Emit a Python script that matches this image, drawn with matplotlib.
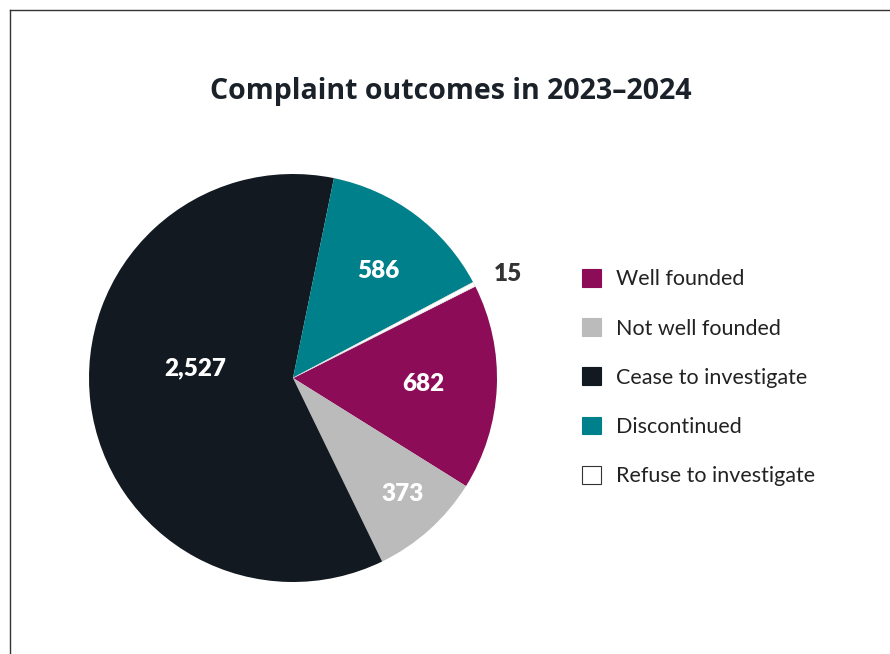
import matplotlib.pyplot as plt
from matplotlib.patches import Patch
from matplotlib.lines import Line2D
import numpy as np

outcomes = ['Well founded', 'Not well founded', 'Cease to investigate', 'Discontinued', 'Refuse to investigate']
counts = [682, 373, 2527, 586, 15]
colours = ['#8c0c58', '#bbbbbb', '#121920', '#00808a', '#ffffff']
label_colours = ['white', 'white', 'white', 'white', '#333333']
label_dist = [0.64, 0.78, 0.48, 0.67, 1.17]
label_turn = [0, 1.5, -13, -2, -1.5]  # degrees added to each wedge's mid angle

W, H = 890, 654
fig = plt.figure(figsize=(W / 100, H / 100), dpi=100)
fig.patch.set_facecolor('white')

# left and top border of the panel
fig.add_artist(Line2D([10 / W, 10 / W], [0, 1 - 10 / H], color='#333333', lw=1, transform=fig.transFigure))
fig.add_artist(Line2D([10 / W, 1], [1 - 10 / H, 1 - 10 / H], color='#333333', lw=1, transform=fig.transFigure))

fig.text(451 / W, 1 - 92 / H, 'Complaint outcomes in 2023\u20132024', ha='center', va='center',
         fontsize=20.5, fontweight='bold', family='Open Sans', color='#1a2129')

# pie centred at (293, 378) px with radius 204 px
cx, cy, r = 293, 378, 204
ax = fig.add_axes([(cx - r) / W, (H - cy - r) / H, 2 * r / W, 2 * r / H])
wedges, _ = ax.pie(counts, colors=colours, startangle=26.7, counterclock=False, radius=1,
                   wedgeprops=dict(linewidth=0))
wedges[4].set_edgecolor('#dddddd')
wedges[4].set_linewidth(0.5)
ax.set_xlim(-1, 1)
ax.set_ylim(-1, 1)
ax.set_aspect('auto')
ax.axis('off')

for w, n, c, d, t in zip(wedges, counts, label_colours, label_dist, label_turn):
    mid = np.deg2rad((w.theta1 + w.theta2) / 2 + t)
    ax.text(d * np.cos(mid), d * np.sin(mid), f'{n:,}', ha='center', va='center',
            fontsize=17.5, fontweight='heavy', family='Lato', color=c)

handles = [Patch(facecolor=c, edgecolor='#333333' if c == '#ffffff' else c, linewidth=0.8) for c in colours]
leg = fig.legend(handles, outcomes, loc='upper left', bbox_to_anchor=(582 / W, 1 - 269 / H),
                 frameon=False, prop={'family': 'Lato', 'size': 15.5},
                 handlelength=0.9, handleheight=0.9, handletextpad=0.7, labelspacing=1.34,
                 borderaxespad=0, borderpad=0)
for t in leg.get_texts():
    t.set_color('#222222')

fig.savefig('out.png', dpi=100, facecolor='white')
